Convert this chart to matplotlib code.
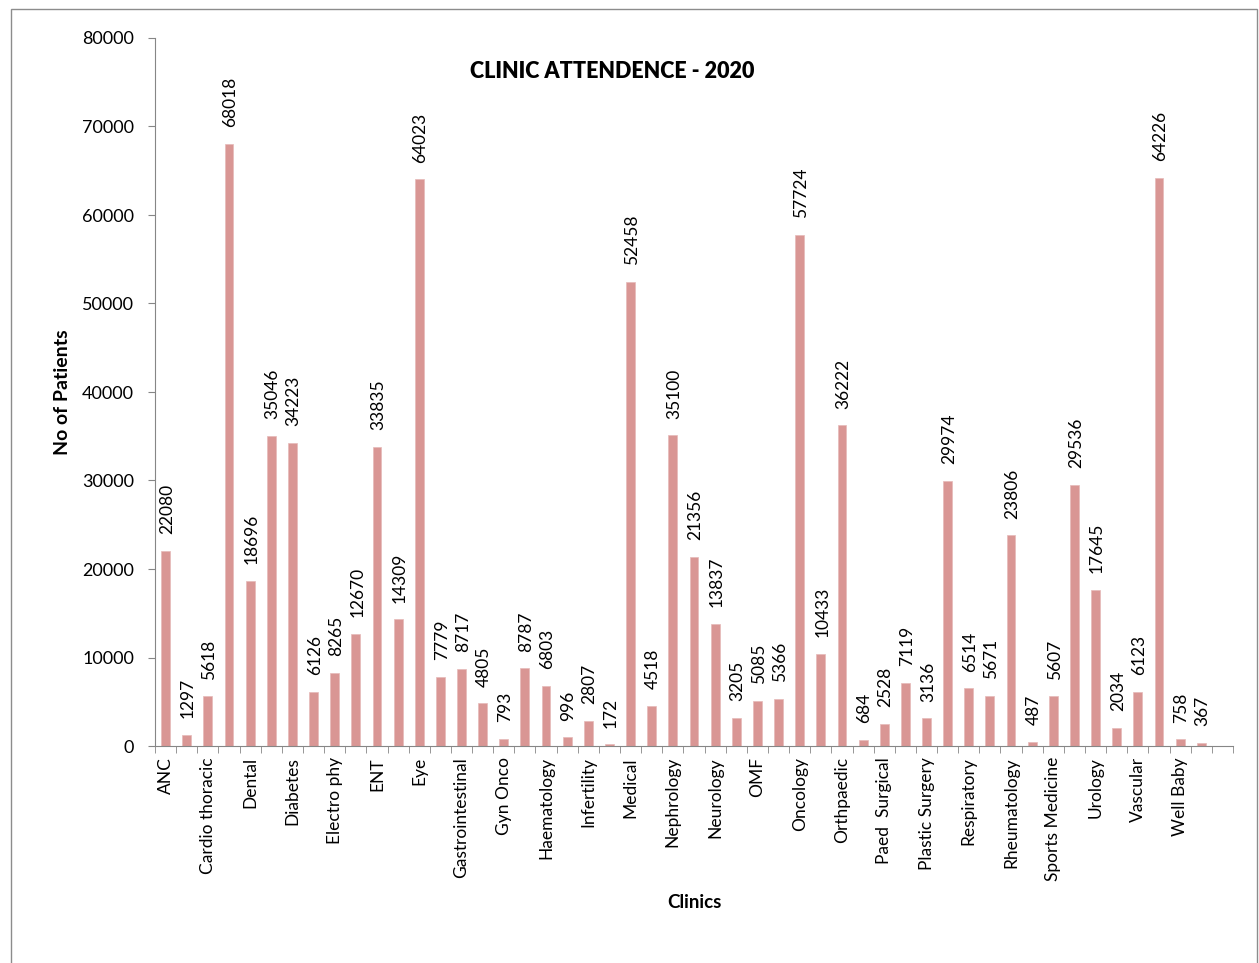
import numpy as np
import matplotlib.pyplot as plt
from matplotlib.patches import Rectangle

plt.rcParams['font.family'] = ['Lato', 'DejaVu Sans']

# every clinic slot on the axis; only every second name is printed in the original
values = [22080, 1297, 5618, 68018, 18696, 35046, 34223, 6126, 8265, 12670,
          33835, 14309, 64023, 7779, 8717, 4805, 793, 8787, 6803, 996,
          2807, 172, 52458, 4518, 35100, 21356, 13837, 3205, 5085, 5366,
          57724, 10433, 36222, 684, 2528, 7119, 3136, 29974, 6514, 5671,
          23806, 487, 5607, 29536, 17645, 2034, 6123, 64226, 758, 367]
shown_labels = ["ANC", "Cardio thoracic", "Dental", "Diabetes", "Electro phy",
                "ENT", "Eye", "Gastrointestinal", "Gyn Onco", "Haematology",
                "Infertility", "Medical", "Nephrology", "Neurology", "OMF",
                "Oncology", "Orthpaedic", "Paed  Surgical", "Plastic Surgery",
                "Respiratory", "Rheumatology", "Sports Medicine", "Urology",
                "Vascular", "Well Baby"]
n_slots = 51  # one empty slot at the end of the axis

bar_color = "#d99694"
axis_color = "#868686"

fig = plt.figure(figsize=(12.59, 9.63), dpi=100)
fig.patches.append(Rectangle((11 / 1259, -0.05), (1257 - 11) / 1259, 1.05 - 9 / 963,
                             transform=fig.transFigure, fill=False,
                             edgecolor="#8c8c8c", linewidth=1.0))
ax = fig.add_axes([155 / 1259, 1 - 746 / 963, (1233 - 155) / 1259, (746 - 38) / 963])

x = np.arange(len(values))
bars = ax.bar(x, values, width=0.42, color=bar_color, edgecolor="#e6b9b8", linewidth=0.5)

for xi, v in zip(x, values):
    ax.annotate(str(v), (xi, v), xytext=(1, 12), textcoords="offset points",
                rotation=90, ha="center", va="bottom", fontsize=12.5)

ax.set_xlim(-0.5, n_slots - 0.5)
ax.set_ylim(0, 80000)
ax.set_yticks(np.arange(0, 80001, 10000))
ax.tick_params(axis="y", labelsize=13, length=5, color=axis_color, pad=10)

ax.set_xticks(np.arange(0, len(values), 2))
ax.set_xticklabels(shown_labels, rotation=90, fontsize=12.5)
ax.tick_params(axis="x", which="major", length=0, pad=8)
ax.set_xticks(np.arange(-0.5, n_slots, 1), minor=True)
ax.tick_params(axis="x", which="minor", length=5, color=axis_color)

for s in ["top", "right"]:
    ax.spines[s].set_visible(False)
for s in ["left", "bottom"]:
    ax.spines[s].set_color(axis_color)

ax.text(0.424, 0.952, "CLINIC ATTENDENCE - 2020", transform=ax.transAxes,
        ha="center", va="center", fontsize=15.5, fontweight="heavy")
fig.text(62 / 1259, 1 - 392 / 963, "No of Patients", rotation=90, ha="center",
         va="center", fontsize=14, fontweight="bold")
fig.text(694 / 1259, 1 - 902 / 963, "Clinics", ha="center", va="center",
         fontsize=13.5, fontweight="bold")

fig.savefig("out.png", dpi=100)
